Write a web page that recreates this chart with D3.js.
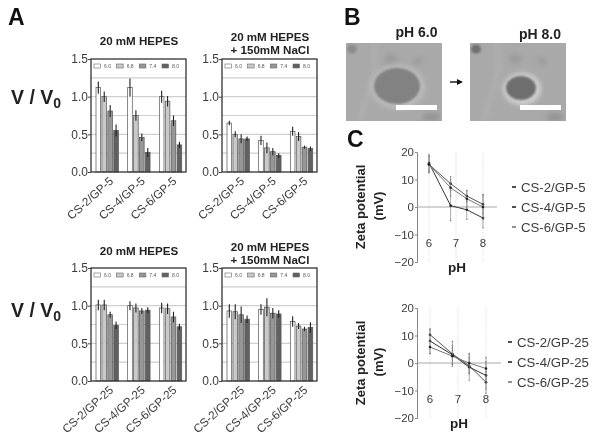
<!DOCTYPE html>
<html>
<head>
<meta charset="utf-8">
<script src="https://cdn.jsdelivr.net/npm/d3@7"></script>
<style>
  html, body { margin: 0; padding: 0; background: #fff; }
  svg { display: block; font-family: "Liberation Sans", Arial, sans-serif; filter: blur(0.5px); }
</style>
</head>
<body>
<svg id="chart" width="600" height="444"></svg>
<script>
// pH series shared by every bar panel
const phLabels = ["6.0", "6.8", "7.4", "8.0"];
const phColors = ["#ffffff", "#c9c9c9", "#979797", "#616161"];
const gridValues = [0.25, 0.5, 0.75, 1.0, 1.25];
const barTicks = [0, 0.5, 1.0, 1.5];

const catsGp5 = ["CS-2/GP-5", "CS-4/GP-5", "CS-6/GP-5"];
const catsGp25 = ["CS-2/GP-25", "CS-4/GP-25", "CS-6/GP-25"];

// V/V0, one row per category, one column per pH
const hepesGp5 = [[1.12, 1.0, 0.81, 0.55], [1.12, 0.75, 0.46, 0.26], [1.0, 0.94, 0.68, 0.36]];
const hepesGp5Err = [[0.08, 0.07, 0.08, 0.08], [0.12, 0.07, 0.05, 0.06], [0.08, 0.07, 0.07, 0.04]];
const naclGp5 = [[0.65, 0.5, 0.44, 0.44], [0.42, 0.32, 0.27, 0.22], [0.54, 0.47, 0.33, 0.31]];
const naclGp5Err = [[0.03, 0.04, 0.06, 0.03], [0.06, 0.07, 0.05, 0.03], [0.06, 0.06, 0.02, 0.03]];
const hepesGp25 = [[1.01, 1.01, 0.88, 0.74], [1.0, 0.97, 0.93, 0.94], [0.97, 0.96, 0.85, 0.72]];
const hepesGp25Err = [[0.07, 0.07, 0.04, 0.05], [0.06, 0.06, 0.04, 0.04], [0.07, 0.07, 0.07, 0.04]];
const naclGp25 = [[0.93, 0.92, 0.88, 0.82], [0.95, 0.98, 0.9, 0.89], [0.79, 0.73, 0.69, 0.71]];
const naclGp25Err = [[0.09, 0.1, 0.11, 0.05], [0.07, 0.12, 0.07, 0.05], [0.07, 0.04, 0.03, 0.07]];

// Zeta potential panels
const zetaPh = [6, 6.8, 7.4, 8];
const zetaTicks = [-20, -10, 0, 10, 20];
const phTicks = [6, 7, 8];
const zetaGp5 = [[15.5, 8.5, 4, 1], [16, 0.5, -1, -4], [15.5, 7, 3, 0]];
const zetaGp5Err = [[3, 2.5, 2, 3.5], [3, 5.5, 3.5, 3.5], [3, 3, 3, 4.5]];
const zetaGp25 = [[10.3, 3.3, -1, -7], [8, 3, -1.5, -4.5], [5.8, 2.5, 0, -2]];
const zetaGp25Err = [[1.8, 4.5, 3, 4], [4.5, 3.5, 4.8, 5], [2.5, 3, 3.5, 4]];
const zetaColors = ["#555555", "#333333", "#777777"];

const svg = d3.select("#chart");
const textColor = "#3c3c3c";

function panelLabel(txt, x, y) {
  svg.append("text").attr("x", x).attr("y", y)
    .attr("font-size", 23).attr("font-weight", "bold").attr("fill", "#111").text(txt);
}

function boldText(txt, x, y, size, anchor) {
  return svg.append("text").attr("x", x).attr("y", y)
    .attr("font-size", size).attr("font-weight", "bold").attr("fill", "#222")
    .attr("text-anchor", anchor || "middle").text(txt);
}

function barPanel(left, top, cats, values, errs, titleLines, titleY) {
  const w = 95, h = 113;
  const g = svg.append("g").attr("transform", `translate(${left},${top})`);
  const y = d3.scaleLinear().domain([0, 1.5]).range([h, 0]);
  const x0 = d3.scaleBand().domain(cats).range([0, w]);
  const x1 = d3.scaleBand().domain(phLabels).range([5, 27.4]).paddingInner(0.22);

  g.selectAll(".grid").data(gridValues).enter().append("line")
    .attr("x1", 0).attr("x2", w)
    .attr("y1", d => y(d)).attr("y2", d => y(d))
    .attr("stroke", "#cfcfcf").attr("stroke-width", 1.2);

  cats.forEach((cat, i) => {
    const grp = g.append("g").attr("transform", `translate(${x0(cat)},0)`);
    phLabels.forEach((ph, j) => {
      const cx = x1(ph) + x1.bandwidth() / 2;
      grp.append("rect")
        .attr("x", x1(ph)).attr("width", x1.bandwidth())
        .attr("y", y(values[i][j])).attr("height", h - y(values[i][j]))
        .attr("fill", phColors[j]).attr("stroke", "#555").attr("stroke-width", 0.7);
      grp.append("line").attr("x1", cx).attr("x2", cx)
        .attr("y1", y(values[i][j] + errs[i][j])).attr("y2", y(values[i][j] - errs[i][j]))
        .attr("stroke", "#222").attr("stroke-width", 1.1);
    });
  });

  // frame on top of the bars
  g.append("rect").attr("width", w).attr("height", h)
    .attr("fill", "none").attr("stroke", "#333").attr("stroke-width", 1.3);

  // small legend along the top
  const lx = d3.scalePoint().domain(phLabels).range([3, 71]);
  phLabels.forEach((ph, j) => {
    g.append("rect").attr("x", lx(ph)).attr("y", 5).attr("width", 6.5).attr("height", 4)
      .attr("fill", phColors[j]).attr("stroke", "#666").attr("stroke-width", 0.6);
    g.append("text").attr("x", lx(ph) + 10).attr("y", 9.2)
      .attr("font-size", 5).attr("fill", "#555").text(ph);
  });

  const yAxis = d3.axisLeft(y).tickValues(barTicks).tickFormat(d3.format(".1f")).tickSize(3).tickPadding(0);
  const ax = g.append("g").call(yAxis);
  ax.select(".domain").remove();
  ax.selectAll("line").attr("stroke", "#444");
  ax.selectAll("text").attr("font-size", 12).attr("fill", textColor)
    .attr("font-family", "Liberation Sans, Arial, sans-serif");

  // rotated category labels
  g.selectAll(".cat").data(cats).enter().append("text")
    .attr("transform", d => `translate(${x0(d) + x0.bandwidth() / 2 + 4.5},${h + 7}) rotate(-42)`)
    .attr("text-anchor", "end").attr("dy", "0.35em")
    .attr("font-size", 11.7).attr("fill", textColor).text(d => d);

  titleLines.forEach((line, i) => {
    boldText(line, left + w / 2 + 0.5, titleY + i * 13, 11.6);
  });
}

function zetaPanel(axisX, top, values, errs, cats, legendX, legendY, xStart, xEnd, pxTop) {
  const h = 110;
  const y = d3.scaleLinear().domain([-20, 20]).range([top + h, top]);
  const x = d3.scaleLinear().domain([6, 8]).range([xStart, xEnd]);
  const g = svg.append("g");

  g.selectAll(".vline").data(phTicks).enter().append("line")
    .attr("x1", d => x(d)).attr("x2", d => x(d))
    .attr("y1", y(20)).attr("y2", y(-20))
    .attr("stroke", "#e2e2e2").attr("stroke-width", 1).attr("stroke-dasharray", "1.5,1");

  g.append("line").attr("x1", axisX).attr("x2", pxTop)
    .attr("y1", y(0)).attr("y2", y(0))
    .attr("stroke", "#aaaaaa").attr("stroke-width", 1.2);

  const yAxis = d3.axisLeft(y).tickValues(zetaTicks).tickSize(2).tickPadding(1);
  const ax = g.append("g").attr("transform", `translate(${axisX},0)`).call(yAxis);
  ax.select(".domain").attr("stroke", "#888");
  ax.selectAll("line").attr("stroke", "#888");
  ax.selectAll("text").attr("font-size", 11.5).attr("fill", textColor)
    .attr("font-family", "Liberation Sans, Arial, sans-serif");

  const line = d3.line().x((d, i) => x(zetaPh[i])).y(d => y(d));
  values.forEach((series, s) => {
    series.forEach((v, i) => {
      const px = x(zetaPh[i]);
      g.append("line").attr("x1", px).attr("x2", px)
        .attr("y1", y(v + errs[s][i])).attr("y2", y(v - errs[s][i]))
        .attr("stroke", "#888").attr("stroke-width", 0.7);
      [v + errs[s][i], v - errs[s][i]].forEach(e => {
        g.append("circle").attr("cx", px).attr("cy", y(e)).attr("r", 0.7).attr("fill", "#777");
      });
    });
    g.append("path").attr("d", line(series)).attr("fill", "none")
      .attr("stroke", zetaColors[s]).attr("stroke-width", 1);
    g.selectAll(null).data(series).enter().append("circle")
      .attr("cx", (d, i) => x(zetaPh[i])).attr("cy", d => y(d)).attr("r", 1.3)
      .attr("fill", "#222");
  });

  g.selectAll(".phtick").data(phTicks).enter().append("text")
    .attr("x", d => x(d)).attr("y", y(-10) + 4 + 8)
    .attr("text-anchor", "middle").attr("font-size", 11.5).attr("fill", textColor).text(d => d);

  boldText("pH", x(7) + 1, top + h + 10, 13.5);
  boldText("Zeta potential", 0, 0, 13)
    .attr("transform", `translate(${axisX - 52},${y(0)}) rotate(-90)`);
  boldText("(mV)", 0, 0, 13)
    .attr("transform", `translate(${axisX - 34},${y(0) - 1}) rotate(-90)`);

  cats.forEach((cat, i) => {
    const ly = legendY + i * 20;
    g.append("line").attr("x1", legendX - 9).attr("x2", legendX - 5)
      .attr("y1", ly).attr("y2", ly)
      .attr("stroke", i === 2 ? "#777" : "#222").attr("stroke-width", 1.6);
    g.append("text").attr("x", legendX).attr("y", ly).attr("dy", "0.35em")
      .attr("font-size", 13.2).attr("fill", textColor).text(cat);
  });
}

function vOverV0(y) {
  const t = boldText("V / V", 11, y, 19.5, "start");
  t.append("tspan").attr("dy", 4).attr("font-size", 14).text("0");
}

// micrographs are soft gray shapes, clipped to their frame
function micrograph(id, left, top, cx, cy, rx, ry, cellColor, haloColor, barLeft) {
  const w = 96, h = 78;
  const defs = svg.append("defs");
  defs.append("clipPath").attr("id", "clip" + id).append("rect").attr("width", w).attr("height", h);
  defs.append("filter").attr("id", "soft" + id)
    .attr("x", "-30%").attr("y", "-30%").attr("width", "160%").attr("height", "160%")
    .append("feGaussianBlur").attr("stdDeviation", 2.6);
  defs.append("filter").attr("id", "softer" + id)
    .attr("x", "-30%").attr("y", "-30%").attr("width", "160%").attr("height", "160%")
    .append("feGaussianBlur").attr("stdDeviation", 1);
  const g = svg.append("g").attr("transform", `translate(${left},${top})`)
    .append("g").attr("clip-path", `url(#clip${id})`);
  g.append("rect").attr("width", w).attr("height", h).attr("fill", "#a9a9a9");
  // background texture
  g.append("path").attr("d", "M28 0 L29 25 L22 50 L14 78").attr("fill", "none")
    .attr("stroke", "#b3b3b3").attr("stroke-width", 3).attr("filter", `url(#soft${id})`);
  g.append("ellipse").attr("cx", 6).attr("cy", 6).attr("rx", 5).attr("ry", 4.5)
    .attr("fill", id === "a" ? "#8c8c8c" : "#707070").attr("filter", `url(#softer${id})`);
  g.append("ellipse").attr("cx", 45).attr("cy", 16).attr("rx", 7).attr("ry", 5)
    .attr("fill", "#9c9c9c").attr("filter", `url(#soft${id})`);
  g.append("ellipse").attr("cx", 72).attr("cy", 18).attr("rx", 5).attr("ry", 4)
    .attr("fill", "#9c9c9c").attr("filter", `url(#soft${id})`);
  g.append("ellipse").attr("cx", 85).attr("cy", 74).attr("rx", 9).attr("ry", 4)
    .attr("fill", "#939393").attr("filter", `url(#soft${id})`);
  // halo and vesicle
  g.append("ellipse").attr("cx", cx + 1).attr("cy", cy + 1).attr("rx", rx + 4).attr("ry", ry + 4)
    .attr("fill", haloColor).attr("filter", `url(#soft${id})`);
  g.append("ellipse").attr("cx", cx).attr("cy", cy).attr("rx", rx).attr("ry", ry)
    .attr("fill", cellColor).attr("filter", `url(#softer${id})`);
  // scale bar
  g.append("rect").attr("x", barLeft).attr("y", 62).attr("width", 41).attr("height", 5).attr("fill", "#fff");
}

panelLabel("A", 8, 25);
panelLabel("B", 344, 25);
panelLabel("C", 347, 147);

vOverV0(104);
vOverV0(317);

barPanel(91, 59, catsGp5, hepesGp5, hepesGp5Err, ["20 mM HEPES"], 45);
barPanel(222, 59, catsGp5, naclGp5, naclGp5Err, ["20 mM HEPES", "+ 150mM NaCl"], 41);
barPanel(91, 268, catsGp25, hepesGp25, hepesGp25Err, ["20 mM HEPES"], 255);
barPanel(222, 268, catsGp25, naclGp25, naclGp25Err, ["20 mM HEPES", "+ 150mM NaCl"], 251);

boldText("pH 6.0", 416.5, 37, 14);
boldText("pH 8.0", 540, 39, 14);
micrograph("a", 346, 43, 51, 43, 23, 18, "#828282", "#bcbcbc", 50);
micrograph("b", 470, 43, 51, 45, 15, 12, "#6e6e6e", "#d2d2d2", 50);

// arrow between the two micrographs
svg.append("line").attr("x1", 450).attr("x2", 459).attr("y1", 82).attr("y2", 82)
  .attr("stroke", "#111").attr("stroke-width", 1.4);
svg.append("path").attr("d", d3.line()([[463, 82], [457, 79], [457, 85]])).attr("fill", "#111");

zetaPanel(417, 152, zetaGp5, zetaGp5Err, catsGp5, 521, 187, 429, 483, 497);
zetaPanel(417, 308, zetaGp25, zetaGp25Err, catsGp25, 517, 342, 430, 486, 501);
</script>
</body>
</html>
